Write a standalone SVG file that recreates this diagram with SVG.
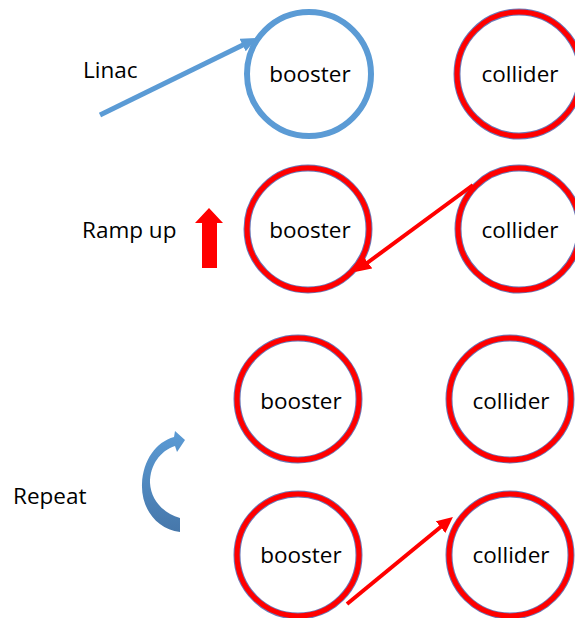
<svg xmlns="http://www.w3.org/2000/svg" width="575" height="618" viewBox="0 0 575 618">
<style>
  .lbl{font-family:"Open Sans","Noto Sans","Liberation Sans",sans-serif;font-size:22.5px;fill:#000}
  .ctr{text-anchor:middle}
  .ring-edge{fill:#fff;stroke:#6a78b8;stroke-width:7}
  .ring-red{fill:none;stroke:#ff0000;stroke-width:5}
  .ring-blue{fill:#fff;stroke:#5b9bd5;stroke-width:6}
</style>
<defs>
  <marker id="ahBlue" markerUnits="userSpaceOnUse" markerWidth="18" markerHeight="14" refX="6" refY="7" orient="auto">
    <path d="M0,0 L16,7 L0,14 z" fill="#5b9bd5"/>
  </marker>
  <marker id="ahRed" markerUnits="userSpaceOnUse" markerWidth="18" markerHeight="15" refX="6" refY="7.5" orient="auto">
    <path d="M0,0 L16,7.5 L0,15 z" fill="#ff0000"/>
  </marker>
  <linearGradient id="gRep" x1="0" y1="0" x2="0" y2="1">
    <stop offset="0" stop-color="#5b9bd5"/>
    <stop offset="1" stop-color="#4677aa"/>
  </linearGradient>
</defs>
<rect width="575" height="618" fill="#fff"/>

<g id="labels">
  <text class="lbl" x="83" y="78">Linac</text>
  <text class="lbl" x="82" y="238">Ramp up</text>
  <text class="lbl" x="13" y="504">Repeat</text>
</g>

<g id="booster1">
  <circle class="ring-blue" cx="309" cy="74" r="62"/>
  <text class="lbl ctr" x="310" y="82">booster</text>
</g>
<g id="collider1">
  <circle class="ring-edge" cx="519" cy="74" r="62"/>
  <circle class="ring-red" cx="519" cy="74" r="62"/>
  <text class="lbl ctr" x="520" y="82">collider</text>
</g>

<g id="booster2">
  <circle class="ring-edge" cx="308" cy="229" r="61"/>
  <circle class="ring-red" cx="308" cy="229" r="61"/>
  <text class="lbl ctr" x="310" y="238">booster</text>
</g>
<g id="collider2">
  <circle class="ring-edge" cx="519" cy="229" r="61"/>
  <circle class="ring-red" cx="519" cy="229" r="61"/>
  <text class="lbl ctr" x="520" y="238">collider</text>
</g>

<g id="booster3">
  <circle class="ring-edge" cx="298" cy="399" r="61"/>
  <circle class="ring-red" cx="298" cy="399" r="61"/>
  <text class="lbl ctr" x="301" y="409">booster</text>
</g>
<g id="collider3">
  <circle class="ring-edge" cx="510" cy="399" r="61"/>
  <circle class="ring-red" cx="510" cy="399" r="61"/>
  <text class="lbl ctr" x="511" y="409">collider</text>
</g>

<g id="booster4">
  <circle class="ring-edge" cx="298" cy="555" r="61"/>
  <circle class="ring-red" cx="298" cy="555" r="61"/>
  <text class="lbl ctr" x="301" y="563">booster</text>
</g>
<g id="collider4">
  <circle class="ring-edge" cx="510" cy="555" r="61"/>
  <circle class="ring-red" cx="510" cy="555" r="61"/>
  <text class="lbl ctr" x="511" y="563">collider</text>
</g>

<g id="rampArrow">
  <polygon points="209,208 223,223 217,223 217,268 202,268 202,223 195,223" fill="#ff0000"/>
</g>

<g id="repeatArrow">
  <path d="M174 437 L175 431 L185 440 L177 452 L175 446 C160 451 150 465 150 483 C151 500 163 513 180 518 L180 532 C156 529 141 508 142 484 C143 460 156 442 174 437 Z" fill="url(#gRep)"/>
</g>

<g id="connectors">
  <line x1="100" y1="115" x2="248" y2="42.4" stroke="#5b9bd5" stroke-width="5" marker-end="url(#ahBlue)"/>
  <line x1="473" y1="185" x2="363" y2="266" stroke="#ff0000" stroke-width="4" marker-end="url(#ahRed)"/>
  <line x1="347" y1="604" x2="445.2" y2="523.3" stroke="#ff0000" stroke-width="4" marker-end="url(#ahRed)"/>
</g>
</svg>
